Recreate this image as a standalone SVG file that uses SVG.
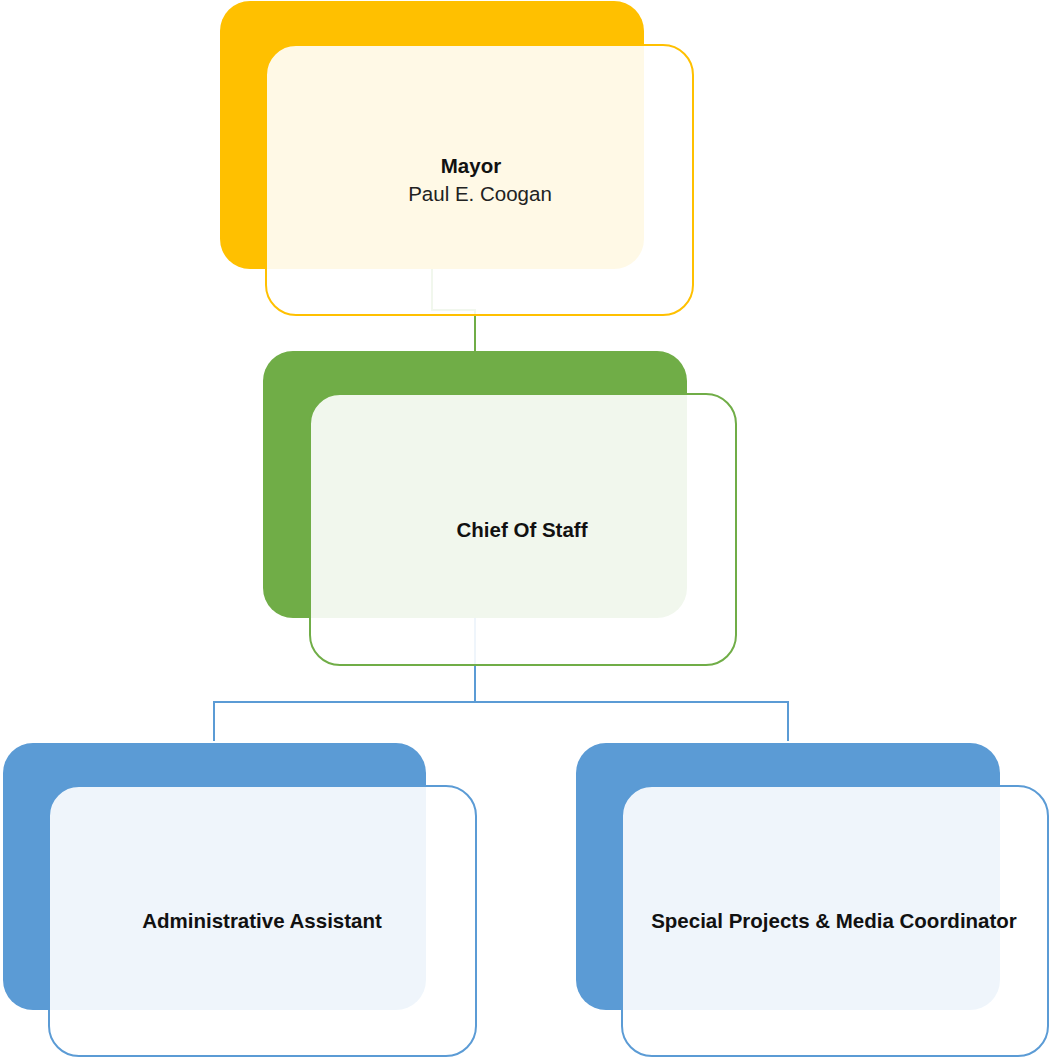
<svg xmlns="http://www.w3.org/2000/svg" width="1050" height="1057" viewBox="0 0 1050 1057">
  <style>
    .back { stroke: none; }
    .front { fill: #ffffff; fill-opacity: 0.9; stroke-width: 2; }
    .gold .back { fill: #FFC000; }
    .gold .front { stroke: #FFC000; }
    .green .back { fill: #70AD47; }
    .green .front { stroke: #70AD47; }
    .blue .back { fill: #5B9BD5; }
    .blue .front { stroke: #5B9BD5; }
    .title { font-family: "Liberation Sans", Arial, sans-serif; font-size: 20.5px; font-weight: bold; fill: #111111; text-anchor: middle; }
    .name { font-family: "Liberation Sans", Arial, sans-serif; font-size: 20.5px; fill: #222222; text-anchor: middle; }
    .link { fill: none; stroke-width: 2; }
  </style>

  <!-- connectors: drawn first so the translucent card faces tint them -->
  <g id="connectors">
    <path class="link" stroke="#70AD47" d="M432,269 V310 H475 V351"/>
    <path class="link" stroke="#5B9BD5" d="M475,618 V702 M214,741 V702 H788 V741"/>
  </g>

  <g id="node-mayor" class="gold">
    <rect class="back" x="220" y="1" width="424" height="268" rx="30"/>
    <rect class="front" x="266" y="45" width="427" height="270" rx="30"/>
    <text class="title" x="471" y="173">Mayor</text>
    <text class="name" x="480" y="201">Paul E. Coogan</text>
  </g>

  <g id="node-chief-of-staff" class="green">
    <rect class="back" x="263" y="351" width="424" height="267" rx="30"/>
    <rect class="front" x="310" y="394" width="426" height="271" rx="30"/>
    <text class="title" x="522" y="537">Chief Of Staff</text>
  </g>

  <g id="node-administrative-assistant" class="blue">
    <rect class="back" x="3" y="743" width="423" height="267" rx="30"/>
    <rect class="front" x="49" y="786" width="427" height="270" rx="30"/>
    <text class="title" x="262" y="928">Administrative Assistant</text>
  </g>

  <g id="node-special-projects" class="blue">
    <rect class="back" x="576" y="743" width="424" height="267" rx="30"/>
    <rect class="front" x="622" y="786" width="426" height="270" rx="30"/>
    <text class="title" x="834" y="928">Special Projects &amp; Media Coordinator</text>
  </g>
</svg>
